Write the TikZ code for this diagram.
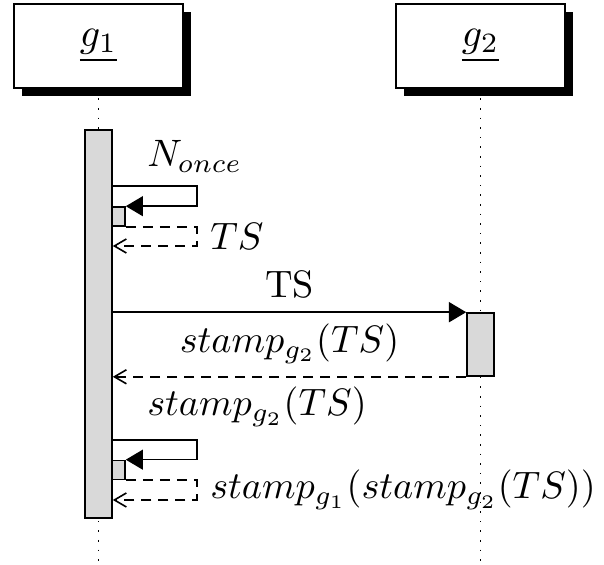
\documentclass[tikz,border=0pt]{standalone}
\usepackage{amsmath,amssymb}
\usepackage{tikz}
\usetikzlibrary{arrows.meta,positioning,shadows}

\begin{document}
\begin{tikzpicture}[x=0.25pt, y=-0.25pt,
        inst/.style={rectangle, draw, fill=white, minimum width=42.25pt, minimum height=21pt,
            drop shadow={shadow xshift=2.1pt, shadow yshift=-2.1pt, fill=black, opacity=1}},
        act/.style={rectangle, draw, fill=gray!30, minimum width=6.75pt, inner sep=0pt},
        subact/.style={rectangle, draw, fill=gray!30, minimum width=3.25pt, minimum height=4.75pt, inner sep=0pt},
        lbl/.style={scale=0.955},
        life/.style={dotted},
        call/.style={-{Triangle[length=4.3pt,width=5pt]}},
        ret/.style={dash pattern=on 2.5pt off 1.75pt, -{Straight Barb[length=3pt,width=3.5pt]}}
    ]
    \useasboundingbox (0,0) rectangle (604,565);
    % instances
    \node[inst] (g1) at (98.5,46) {$\underline{g_1}$};
    \node[inst] (g2) at (480.5,46) {$\underline{g_2}$};
    \coordinate (e1) at (98.5,565);
    \coordinate (e2) at (480.5,565);
    \draw[life] (g1.south) -- (e1);
    \draw[life] (g2.south) -- (e2);
    % activations
    \node[act, minimum height=97pt] (a1) at (98.5,324) {};
    \node[act, minimum height=15.75pt] (b1) at (480.5,344.5) {};
    \node[subact] (s1) at (118.5,216.5) {};
    \node[subact] (s2) at (118.5,470) {};
    % first self call
    \draw[call] (a1.east |- 0,186) -- node[lbl, pos=0.25, above right] {$N_{once}$} ++(84,0) |- (s1.north east);
    \draw[ret] (s1.south east) -- ++(71,0) |- node[lbl, pos=0.25, right] {$TS$} (a1.east |- 0,246);
    % exchange with g2
    \draw[call] (a1.east |- b1.north) -- node[lbl, above] {TS} (b1.north west);
    \draw[ret] (b1.south west) -- node[lbl, above] {$stamp_{g_2}(TS)$} (a1.east |- b1.south);
    % second self call
    \draw[call] (a1.east |- 0,440) -- node[lbl, pos=0.25, above right] {$stamp_{g_2}(TS)$} ++(84,0) |- (s2.north east);
    \draw[ret] (s2.south east) -- ++(71,0) |- node[lbl, pos=0.25, right] {$stamp_{g_1}(stamp_{g_2}(TS))$} (a1.east |- 0,500);
\end{tikzpicture}
\end{document}
